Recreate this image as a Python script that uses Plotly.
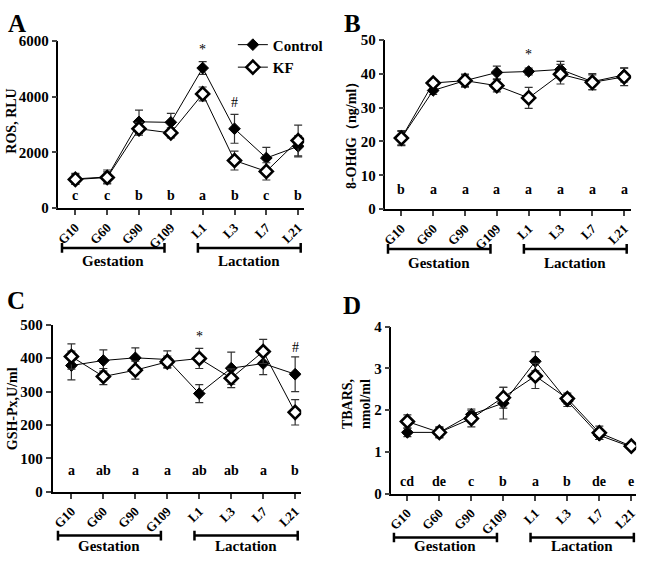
import plotly.graph_objects as go

W, H = 650, 563

categories = ["G10", "G60", "G90", "G109", "L1", "L3", "L7", "L21"]

# Panel A: ROS, RLU
ros_control = [1050, 1120, 3100, 3080, 5030, 2850, 1800, 2220]
ros_control_err = [200, 250, 420, 320, 230, 520, 380, 380]
ros_kf = [1030, 1100, 2850, 2700, 4100, 1710, 1320, 2430]
ros_kf_err = [180, 200, 230, 180, 250, 340, 310, 550]
ros_letters = ["c", "c", "b", "b", "a", "b", "c", "b"]
ros_marks = {"L1": ("*", 5700), "L3": ("#", 3800)}

# Panel B: 8-OHdG (ng/ml)
ohdg_control = [21.0, 35.1, 38.0, 40.4, 40.7, 41.3, 37.7, 39.7]
ohdg_control_err = [2.2, 1.2, 1.9, 1.9, 1.0, 2.4, 2.4, 2.1]
ohdg_kf = [21.0, 37.3, 38.0, 36.5, 32.9, 39.9, 37.5, 39.1]
ohdg_kf_err = [2.0, 1.0, 1.7, 1.8, 3.1, 2.9, 2.2, 2.6]
ohdg_letters = ["b", "a", "a", "a", "a", "a", "a", "a"]
ohdg_marks = {"L1": ("*", 45.7)}

# Panel C: GSH-Px, U/ml
gsh_control = [378, 393, 401, 396, 294, 370, 384, 352]
gsh_control_err = [43, 32, 30, 26, 27, 48, 33, 52]
gsh_kf = [405, 345, 364, 389, 399, 340, 420, 238]
gsh_kf_err = [38, 24, 27, 17, 30, 28, 36, 38]
gsh_letters = ["a", "ab", "a", "a", "ab", "ab", "a", "b"]
gsh_marks = {"L1": ("*", 465), "L21": ("#", 432)}

# Panel D: TBARS, nmol/ml
tbars_control = [1.47, 1.47, 1.90, 2.17, 3.17, 2.22, 1.40, 1.12]
tbars_control_err = [0.10, 0.13, 0.13, 0.38, 0.23, 0.13, 0.10, 0.04]
tbars_kf = [1.73, 1.47, 1.80, 2.30, 2.82, 2.28, 1.46, 1.14]
tbars_kf_err = [0.16, 0.12, 0.20, 0.25, 0.30, 0.13, 0.16, 0.04]
tbars_letters = ["cd", "de", "c", "b", "a", "b", "de", "e"]
tbars_marks = {}

FONT = "Liberation Serif"

panels = [
    dict(x0=55, x1=303, yt=34, yb=206, xr=[-0.53, 7.19], ymax=6000, dtick=2000,
         ctrl=ros_control, ctrl_err=ros_control_err, kf=ros_kf, kf_err=ros_kf_err,
         letters=ros_letters, letter_y=450, marks=ros_marks, bar_y=247, text_y=260,
         tag="A", tag_x=2, tag_y=0, title="ROS, RLU", title_x=8, title_y=116),
    dict(x0=385, x1=633, yt=33, yb=207, xr=[-0.5, 7.22], ymax=50, dtick=10,
         ctrl=ohdg_control, ctrl_err=ohdg_control_err, kf=ohdg_kf, kf_err=ohdg_kf_err,
         letters=ohdg_letters, letter_y=5.8, marks=ohdg_marks, bar_y=248, text_y=262,
         tag="B", tag_x=341, tag_y=0, title="8-OHdG（ng/ml）", title_x=351, title_y=128),
    dict(x0=49, x1=300, yt=326, yb=498, xr=[-0.59, 7.19], ymax=500, dtick=100,
         ctrl=gsh_control, ctrl_err=gsh_control_err, kf=gsh_kf, kf_err=gsh_kf_err,
         letters=gsh_letters, letter_y=63, marks=gsh_marks, bar_y=543, text_y=554,
         tag="C", tag_x=1, tag_y=285, title="GSH-Px,U/ml", title_x=8, title_y=412),
    dict(x0=391, x1=638, yt=328, yb=500, xr=[-0.5, 7.15], ymax=4, dtick=1,
         ctrl=tbars_control, ctrl_err=tbars_control_err, kf=tbars_kf, kf_err=tbars_kf_err,
         letters=tbars_letters, letter_y=0.3, marks=tbars_marks, bar_y=545, text_y=554,
         tag="D", tag_x=340, tag_y=290, title="TBARS,<br>nmol/ml", title_x=356, title_y=408),
]

fig = go.Figure()
shapes = []
annotations = []


def px_x(p):
    return p / W


def px_y(p):
    return 1 - p / H


idx_pos = list(range(len(categories)))

for i, p in enumerate(panels):
    n = i + 1
    xa = "x" if n == 1 else f"x{n}"
    ya = "y" if n == 1 else f"y{n}"
    fig.add_trace(go.Scatter(
        x=idx_pos, y=p["ctrl"], mode="lines+markers", name="Control",
        legendgroup="Control", showlegend=(n == 1),
        line=dict(color="black", width=1),
        marker=dict(symbol="diamond", size=9, color="black", line=dict(color="black", width=1)),
        error_y=dict(type="data", array=p["ctrl_err"], color="#333333", thickness=1.2, width=4),
        xaxis=xa, yaxis=ya))
    fig.add_trace(go.Scatter(
        x=idx_pos, y=p["kf"], mode="lines+markers", name="KF",
        legendgroup="KF", showlegend=(n == 1),
        line=dict(color="black", width=1),
        marker=dict(symbol="diamond", size=10, color="white", line=dict(color="black", width=2.6)),
        error_y=dict(type="data", array=p["kf_err"], color="#333333", thickness=1.2, width=4),
        xaxis=xa, yaxis=ya))

    xkey = "xaxis" if n == 1 else f"xaxis{n}"
    ykey = "yaxis" if n == 1 else f"yaxis{n}"
    fig.update_layout(**{
        xkey: dict(domain=[px_x(p["x0"]), px_x(p["x1"])], range=p["xr"], anchor=ya,
                   tickmode="array", tickvals=idx_pos, ticktext=categories,
                   tickangle=-45, ticks="outside", ticklen=5, tickwidth=1.5,
                   showline=True, linecolor="black", linewidth=1.5, showgrid=False,
                   zeroline=False,
                   tickfont=dict(family=FONT, size=13, color="black", weight="bold")),
        ykey: dict(domain=[px_y(p["yb"]), px_y(p["yt"])], range=[0, p["ymax"]], anchor=xa,
                   dtick=p["dtick"], tick0=0, ticks="outside", ticklen=5, tickwidth=1.5,
                   showline=True, linecolor="black", linewidth=1.5, showgrid=False,
                   zeroline=False,
                   tickfont=dict(family=FONT, size=15, color="black", weight="bold")),
    })

    for k, lt in enumerate(p["letters"]):
        annotations.append(dict(x=k, y=p["letter_y"], xref=xa, yref=ya, text=lt,
                                showarrow=False,
                                font=dict(family=FONT, size=14, color="black", weight="bold")))
    for cat, (sym, yv) in p["marks"].items():
        annotations.append(dict(x=categories.index(cat), y=yv, xref=xa, yref=ya, text=sym,
                                showarrow=False,
                                font=dict(family=FONT, size=14, color="black")))
    for (a, b, label) in [(-0.42, 2.8, "Gestation"), (3.85, 7.08, "Lactation")]:
        yb = px_y(p["bar_y"])
        shapes.append(dict(type="line", xref=xa, yref="paper", x0=a, x1=b, y0=yb, y1=yb,
                           line=dict(color="black", width=2.5)))
        for xe in (a, b):
            shapes.append(dict(type="line", xref=xa, yref="paper", x0=xe, x1=xe,
                               y0=px_y(p["bar_y"] - 5), y1=px_y(p["bar_y"] + 5),
                               line=dict(color="black", width=2.5)))
        annotations.append(dict(x=(a + b) / 2, y=px_y(p["text_y"]), xref=xa, yref="paper",
                                text=label, showarrow=False, yanchor="middle",
                                font=dict(family=FONT, size=15, color="black", weight="bold")))
    annotations.append(dict(x=px_x(p["tag_x"]), y=px_y(p["tag_y"]), xref="paper", yref="paper",
                            text=p["tag"], showarrow=False, xanchor="left", yanchor="top",
                            font=dict(family=FONT, size=25, color="black", weight="bold")))
    annotations.append(dict(x=px_x(p["title_x"]), y=px_y(p["title_y"]), xref="paper", yref="paper",
                            text=p["title"], showarrow=False, textangle=-90,
                            xanchor="center", yanchor="middle",
                            font=dict(family=FONT, size=14, color="black", weight="bold")))

fig.update_layout(
    width=W, height=H, margin=dict(l=0, r=0, t=0, b=0),
    paper_bgcolor="white", plot_bgcolor="white",
    shapes=shapes, annotations=annotations,
    legend=dict(x=px_x(231), y=px_y(21), xanchor="left", yanchor="top",
                bgcolor="rgba(0,0,0,0)", itemwidth=30, tracegroupgap=0,
                font=dict(family=FONT, size=15, color="black", weight="bold")),
)

fig.write_html("out.html", config={"displayModeBar": False},
               post_script="document.body.style.margin='0';")
